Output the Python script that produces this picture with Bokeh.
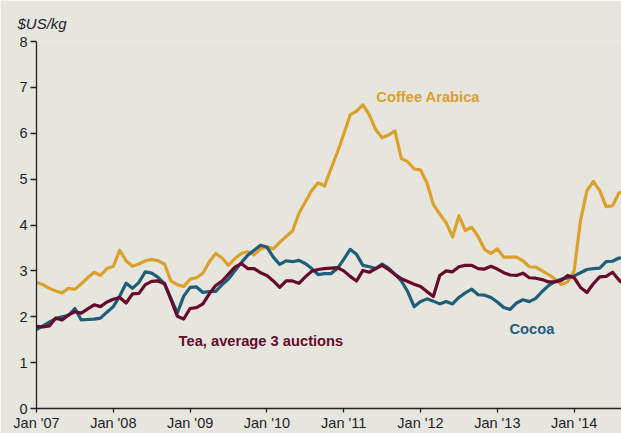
from bokeh.plotting import figure
from bokeh.models import Range1d, FixedTicker, Label
from bokeh.embed import file_html
from bokeh.resources import INLINE

# Monthly values, Jan 2007 .. Sep 2014 ($US/kg)
coffee = [2.75, 2.70, 2.62, 2.56, 2.52, 2.62, 2.60, 2.72, 2.85, 2.97, 2.90, 3.05,
          3.10, 3.45, 3.22, 3.10, 3.15, 3.22, 3.25, 3.22, 3.15, 2.78, 2.70, 2.66,
          2.82, 2.85, 2.95, 3.20, 3.38, 3.28, 3.12, 3.27, 3.38, 3.42, 3.35, 3.48,
          3.52, 3.48, 3.62, 3.75, 3.87, 4.25, 4.50, 4.75, 4.92, 4.85, 5.22, 5.58,
          5.98, 6.40, 6.48, 6.62, 6.40, 6.08, 5.90, 5.96, 6.05, 5.45, 5.38, 5.22,
          5.20, 4.92, 4.45, 4.24, 4.05, 3.74, 4.20, 3.88, 3.95, 3.75, 3.47, 3.38,
          3.48, 3.30, 3.30, 3.30, 3.22, 3.09, 3.08, 3.00, 2.92, 2.82, 2.70, 2.76,
          3.00, 4.10, 4.75, 4.95, 4.75, 4.40, 4.42, 4.70, 4.72]
cocoa = [1.72, 1.80, 1.88, 1.96, 2.00, 2.03, 2.18, 1.93, 1.94, 1.95, 1.97, 2.10,
         2.22, 2.45, 2.73, 2.62, 2.75, 2.98, 2.95, 2.86, 2.72, 2.40, 2.08, 2.45,
         2.64, 2.65, 2.53, 2.55, 2.55, 2.70, 2.82, 3.00, 3.18, 3.34, 3.45, 3.56,
         3.52, 3.30, 3.14, 3.22, 3.20, 3.23, 3.16, 3.05, 2.92, 2.94, 2.94, 3.05,
         3.25, 3.47, 3.36, 3.12, 3.09, 3.05, 3.15, 3.06, 2.93, 2.78, 2.55, 2.22,
         2.33, 2.39, 2.34, 2.28, 2.33, 2.28, 2.42, 2.52, 2.60, 2.48, 2.47, 2.42,
         2.32, 2.20, 2.16, 2.30, 2.37, 2.33, 2.40, 2.55, 2.68, 2.77, 2.82, 2.85,
         2.89, 2.96, 3.03, 3.05, 3.06, 3.20, 3.21, 3.28, 3.27]
tea = [1.79, 1.78, 1.80, 1.97, 1.93, 2.04, 2.11, 2.08, 2.17, 2.26, 2.22, 2.32,
       2.38, 2.42, 2.30, 2.50, 2.51, 2.70, 2.77, 2.78, 2.72, 2.38, 2.01, 1.95,
       2.18, 2.20, 2.28, 2.50, 2.68, 2.78, 2.93, 3.08, 3.16, 3.05, 3.05, 2.96,
       2.90, 2.78, 2.64, 2.78, 2.78, 2.73, 2.87, 2.99, 3.03, 3.05, 3.06, 3.07,
       3.00, 2.88, 2.78, 3.01, 2.97, 3.05, 3.12, 3.03, 2.92, 2.83, 2.77, 2.71,
       2.66, 2.55, 2.44, 2.90, 3.00, 2.98, 3.09, 3.12, 3.12, 3.05, 3.04, 3.10,
       3.04, 2.96, 2.91, 2.90, 2.95, 2.85, 2.84, 2.81, 2.76, 2.76, 2.79, 2.90,
       2.85, 2.64, 2.53, 2.72, 2.87, 2.88, 2.97, 2.80, 2.68]
months = list(range(len(coffee)))

tick_positions = [0, 12, 24, 36, 48, 60, 72, 84]
tick_labels = ["Jan '07", "Jan '08", "Jan '09", "Jan '10", "Jan '11", "Jan '12", "Jan '13", "Jan '14"]
y_ticks = [0, 1, 2, 3, 4, 5, 6, 7, 8]

BG = "#E6E6DE"
C_COFFEE = "#DCA02C"
C_COCOA = "#1E5E78"
C_TEA = "#650A2A"
FONT = "Liberation Sans"
TXT = "#1E1E2A"

p = figure(width=621, height=433, output_backend="svg", toolbar_location=None,
           x_range=Range1d(0, 91.4), y_range=Range1d(0, 8),
           min_border_left=36, min_border_right=0, min_border_top=41, min_border_bottom=10,
           title="$US/kg")
p.background_fill_color = BG
p.border_fill_color = BG
p.outline_line_color = None
p.grid.visible = False

p.title.text_font = FONT
p.title.text_font_style = "italic"
p.title.text_font_size = "15px"
p.title.text_color = TXT
p.title.align = "left"
p.title.offset = -19
p.title.standoff = 19

for ax in (p.xaxis[0], p.yaxis[0]):
    ax.axis_line_color = "#222222"
    ax.axis_line_width = 1.3
    ax.major_tick_line_color = "#222222"
    ax.major_tick_line_width = 1.3
    ax.major_tick_in = 0
    ax.minor_tick_line_color = None
    ax.major_label_text_font = FONT
    ax.major_label_text_font_size = "14.5px"
    ax.major_label_text_color = TXT

p.yaxis.ticker = FixedTicker(ticks=y_ticks)
p.yaxis.major_tick_out = 6
p.yaxis.major_label_standoff = 3
p.xaxis.ticker = FixedTicker(ticks=tick_positions)
p.xaxis.major_label_overrides = {t: l for t, l in zip(tick_positions, tick_labels)}
p.xaxis.major_tick_out = 4
p.xaxis.major_label_standoff = 2

p.line(months, coffee, line_color=C_COFFEE, line_width=3.2, line_join="round")
p.line(months, cocoa, line_color=C_COCOA, line_width=3.2, line_join="round")
p.line(months, tea, line_color=C_TEA, line_width=3.2, line_join="round")

for txt, x, y, col in [("Coffee Arabica", 53.1, 6.8, C_COFFEE),
                       ("Cocoa", 73.9, 1.73, C_COCOA),
                       ("Tea, average 3 auctions", 22.2, 1.47, C_TEA)]:
    p.add_layout(Label(x=x, y=y, text=txt, text_color=col, text_font=FONT,
                       text_font_style="bold", text_font_size="14.7px",
                       text_baseline="middle", text_align="left"))

open("out.html", "w").write(file_html(p, INLINE))
